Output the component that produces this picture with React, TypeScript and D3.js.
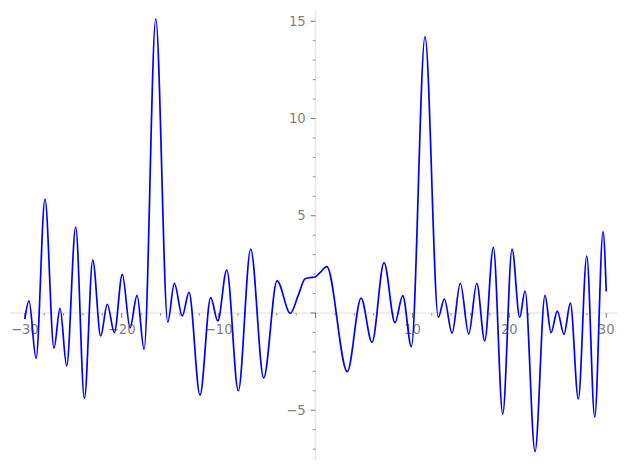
import React from "react";
import * as d3 from "d3";

const xValues: number[] = [
  -30, -29.57, -28.84, -27.92, -26.99, -26.37, -25.68, -24.75, -23.85, -22.99,
  -22.17, -21.49, -20.76, -19.94, -19.14, -18.42, -17.69, -16.49, -15.25, -14.57,
  -13.75, -13.06, -11.92, -10.82, -10.09, -9.16, -7.97, -6.69, -5.35, -3.97,
  -2.6, -1.77, -1.08, -0.57, -0.05, 0.46, 1.16, 3.28, 4.7, 5.83,
  7.07, 8.2, 9.0, 9.89, 11.3, 12.67, 13.29, 14.09, 14.94, 15.81,
  16.64, 17.46, 18.35, 19.32, 20.28, 21.07, 21.62, 22.65, 23.68, 24.3,
  24.95, 25.64, 26.3, 27.12, 27.99, 28.81, 29.67, 30,
];
const yValues: number[] = [
  -0.32, 0.62, -2.33, 5.86, -1.81, 0.24, -2.72, 4.41, -4.39, 2.72,
  -1.18, 0.45, -1.01, 1.99, -0.76, 0.91, -1.87, 15.12, -0.48, 1.53,
  -0.15, 1.06, -4.22, 0.79, -0.41, 2.21, -4.0, 3.28, -3.34, 1.65,
  -0.02, 0.93, 1.76, 1.82, 1.85, 2.08, 2.38, -3.02, 0.76, -1.51,
  2.59, -0.5, 0.89, -1.73, 14.21, -0.22, 0.72, -1.04, 1.53, -1.08,
  1.53, -1.44, 3.38, -5.19, 3.29, -0.23, 1.13, -7.13, 0.91, -1.01,
  0.1, -1.1, 0.51, -4.42, 2.93, -5.36, 4.18, 1.1,
];

const xMajorTicks: number[] = [-30, -20, -10, 0, 10, 20, 30];
const xMinorTicks: number[] = d3.range(-30, 31, 2);
const yMajorTicks: number[] = [-5, 0, 5, 10, 15];
const yMinorTicks: number[] = d3.range(-7, 16, 1);
const xDomain: [number, number] = [-31.53, 31.11];
const yDomain: [number, number] = [-7.56, 15.58];

const W = 627;
const H = 470;
const left = 10;
const right = 617;
const top = 10;
const bottom = 460;

const fmt = (v: number) => (v < 0 ? "\u2212" + Math.abs(v) : String(v));

export default function App() {
  const x = d3.scaleLinear().domain(xDomain).range([left, right]);
  const y = d3.scaleLinear().domain(yDomain).range([bottom, top]);
  const pts: [number, number][] = xValues.map((v, i) => [v, yValues[i]]);
  const line = d3
    .line<[number, number]>()
    .x((d) => x(d[0]))
    .y((d) => y(d[1]))
    .curve(d3.curveMonotoneX);
  const x0 = x(0);
  const y0 = y(0);
  const spine = "#e8e8e8";
  const tickColor = "#777777";
  const labelColor = "#7f7f7f";
  const font = "DejaVu Sans";
  const fs = 13.2;
  return (
    <svg
      width={W}
      height={H}
      style={{ position: "absolute", left: 0, top: 0, background: "#fff" }}
    >
      <line x1={left} x2={right} y1={y0} y2={y0} stroke={spine} strokeWidth={1.6} />
      <line x1={x0} x2={x0} y1={top} y2={bottom} stroke={spine} strokeWidth={1.6} />
      {xMinorTicks
        .filter((t) => !xMajorTicks.includes(t))
        .map((t) => (
          <line key={"xm" + t} x1={x(t)} x2={x(t)} y1={y0} y2={y0 + 2.8} stroke={tickColor} strokeWidth={0.8} />
        ))}
      {xMajorTicks.map((t) => (
        <line key={"xM" + t} x1={x(t)} x2={x(t)} y1={y0} y2={y0 + 4.9} stroke={tickColor} strokeWidth={1} />
      ))}
      {yMinorTicks
        .filter((t) => !yMajorTicks.includes(t))
        .map((t) => (
          <line key={"ym" + t} x1={x0 - 2.8} x2={x0} y1={y(t)} y2={y(t)} stroke={tickColor} strokeWidth={0.8} />
        ))}
      {yMajorTicks.map((t) => (
        <line key={"yM" + t} x1={x0 - 4.9} x2={x0} y1={y(t)} y2={y(t)} stroke={tickColor} strokeWidth={1} />
      ))}
      {xMajorTicks
        .filter((t) => t !== 0)
        .map((t) => (
          <text
            key={"xl" + t}
            x={x(t)}
            y={y0 + 10.5}
            dy="0.76em"
            textAnchor="middle"
            fontFamily={font}
            fontSize={fs}
            fill={labelColor}
          >
            {fmt(t)}
          </text>
        ))}
      {yMajorTicks
        .filter((t) => t !== 0)
        .map((t) => (
          <text
            key={"yl" + t}
            x={x0 - 9.8}
            y={y(t)}
            dy="0.36em"
            textAnchor="end"
            fontFamily={font}
            fontSize={fs}
            fill={labelColor}
          >
            {fmt(t)}
          </text>
        ))}
      <path d={line(pts) ?? ""} fill="none" stroke="#0000ff" strokeWidth={1.7} strokeLinejoin="round" />
    </svg>
  );
}
